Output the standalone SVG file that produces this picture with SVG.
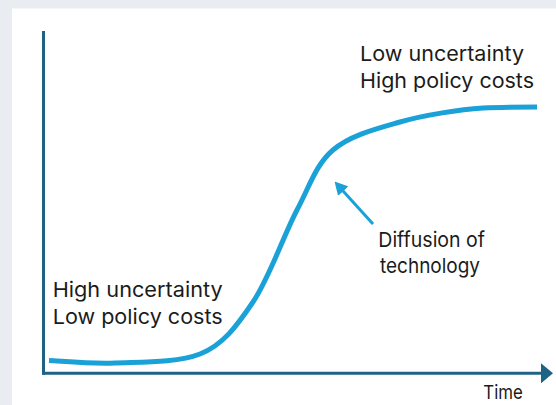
<svg xmlns="http://www.w3.org/2000/svg" width="556" height="405" viewBox="0 0 556 405">
  <style>
    .label { font-family: Inter, "Open Sans", "Liberation Sans", sans-serif; font-size: 20.5px; fill: #1b1b1b; }
    .small { font-size: 19px; }
    .axis { stroke: #1e6384; stroke-width: 3; fill: none; }
    .curve { stroke: #1aa1d8; stroke-width: 5; fill: none; stroke-linecap: butt; }
    .pointer { stroke: #1aa1d8; stroke-width: 3; fill: none; }
  </style>
  <defs>
    <marker id="axis-head" markerUnits="userSpaceOnUse" markerWidth="12" markerHeight="20" refX="1" refY="10" orient="auto" viewBox="0 0 12 20">
      <path d="M0,0 L12,10 L0,20 z" fill="#1e6384"/>
    </marker>
    <marker id="pointer-head" markerUnits="userSpaceOnUse" markerWidth="13" markerHeight="14" refX="1" refY="7" orient="auto" viewBox="0 0 13 14">
      <path d="M0,0 L13,7 L0,14 z" fill="#1aa1d8"/>
    </marker>
  </defs>

  <!-- backdrop and panel -->
  <rect x="0" y="0" width="556" height="405" fill="#e9edf1"/>
  <rect x="12" y="8.5" width="544" height="396.5" fill="#ffffff"/>

  <!-- axes, S-curve and pointer -->
  <g id="connectors">
    <path class="axis" d="M43.5,31 L43.5,374.8"/>
    <path class="axis" d="M42,373.3 L542,373.3" marker-end="url(#axis-head)"/>
    <path class="curve" d="M49,360.5 C60,360.9 89.8,364.1 115,363 C140.2,361.9 177,363 200,354 C223,345 236.8,326 253,302 C269.2,278 283.7,235.3 297,210 C310.3,184.7 315.8,164.7 333,150 C350.2,135.3 375,129.2 400,122 C425,114.8 460.2,109.5 483,108 C500,107 520,107 537,107"/>
    <path class="pointer" d="M373,224 L342.6,190.4" marker-end="url(#pointer-head)"/>
  </g>

  <g id="late-stage">
    <text class="label" x="360" y="61" textLength="164" lengthAdjust="spacingAndGlyphs">Low uncertainty</text>
    <text class="label" x="360" y="87.7" textLength="174" lengthAdjust="spacingAndGlyphs">High policy costs</text>
  </g>

  <g id="early-stage">
    <text class="label" x="52.7" y="297.3" textLength="170" lengthAdjust="spacingAndGlyphs">High uncertainty</text>
    <text class="label" x="52.7" y="324" textLength="170" lengthAdjust="spacingAndGlyphs">Low policy costs</text>
  </g>

  <g id="diffusion">
    <text class="label" x="378.3" y="246.7" textLength="106.7" lengthAdjust="spacingAndGlyphs">Diffusion of</text>
    <text class="label" x="380" y="272.7" textLength="100" lengthAdjust="spacingAndGlyphs">technology</text>
  </g>

  <g id="time-axis-label">
    <text class="label small" x="483.3" y="398.7" textLength="39.5" lengthAdjust="spacingAndGlyphs">Time</text>
  </g>
</svg>
